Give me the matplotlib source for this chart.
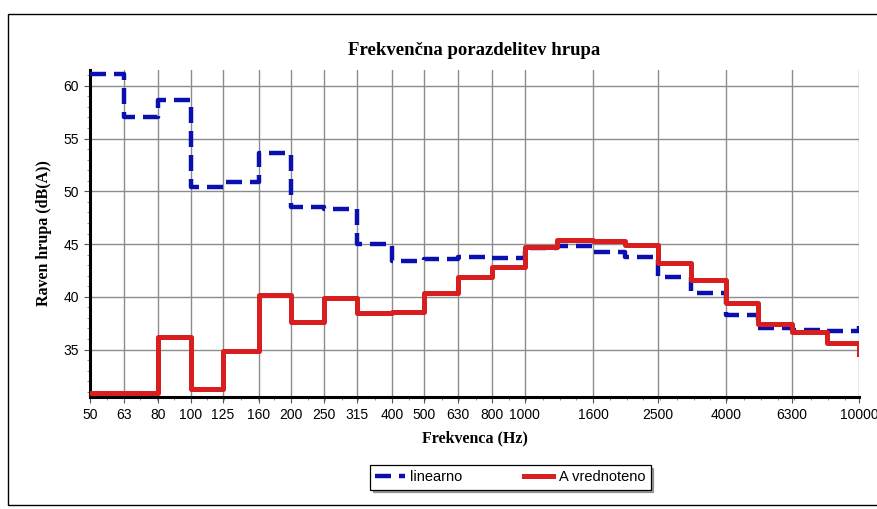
import matplotlib
matplotlib.use("Agg")
import matplotlib.pyplot as plt
import matplotlib.patches as patches
from matplotlib.ticker import FixedLocator, NullFormatter
import numpy as np

# third-octave band centres (Hz)
freq = [50, 63, 80, 100, 125, 160, 200, 250, 315, 400, 500, 630, 800,
        1000, 1250, 1600, 2000, 2500, 3150, 4000, 5000, 6300, 8000, 10000]

# sound level per band
linearno = [61.1, 57.0, 58.7, 50.4, 50.9, 53.6, 48.5, 48.3, 45.0, 43.4, 43.6, 43.8,
            43.7, 44.6, 44.8, 44.2, 43.8, 41.9, 40.4, 38.3, 37.0, 36.9, 36.8, 37.2]
a_vrednoteno = [30.9, 30.9, 36.2, 31.3, 34.9, 40.2, 37.6, 39.9, 38.5, 38.6, 40.4, 41.9,
                42.8, 44.7, 45.4, 45.3, 44.9, 43.2, 41.6, 39.4, 37.4, 36.7, 35.6, 34.6]

xticks = [50, 63, 80, 100, 125, 160, 200, 250, 315, 400, 500, 630, 800, 1000,
          1600, 2500, 4000, 6300, 10000]
yticks = [35, 40, 45, 50, 55, 60]

serif = "Liberation Serif"
sans = "Liberation Sans"

fig = plt.figure(figsize=(8.77, 5.09), dpi=100)
ax = fig.add_axes([0.1026, 0.22, 0.877, 0.6425])

ax.step(freq, linearno, where="post", color="#0a10b0", lw=3.2,
        linestyle=(0, (3.6, 1.8)), label="linearno", zorder=3)
ax.step(freq, a_vrednoteno, where="post", color="#d81e1e", lw=3.6,
        label="A vrednoteno", zorder=4)

ax.set_xscale("log")
ax.set_xlim(50, 10000)
ax.set_ylim(30.5, 61.5)

ax.xaxis.set_major_locator(FixedLocator(xticks))
ax.set_xticklabels([str(t) for t in xticks], fontfamily=sans, fontsize=10)
minor = [50 * 2 ** (k / 6) for k in range(47)]
ax.xaxis.set_minor_locator(FixedLocator(minor))
ax.xaxis.set_minor_formatter(NullFormatter())

ax.set_yticks(yticks)
ax.set_yticklabels([str(t) for t in yticks], fontfamily=sans, fontsize=10)
ax.yaxis.set_minor_locator(FixedLocator(np.arange(31, 62, 1)))

ax.tick_params(which="major", length=4, width=0.8, color="#555555", pad=4)
ax.tick_params(which="minor", length=2.5, width=0.6, color="#777777")

ax.grid(True, which="major", color="#8c8c8c", lw=1.0)
ax.set_axisbelow(True)

for s in ["top", "right"]:
    ax.spines[s].set_visible(False)
for s in ["left", "bottom"]:
    ax.spines[s].set_linewidth(2.2)
    ax.spines[s].set_color("black")

ax.set_title("Frekvenčna porazdelitev hrupa", fontfamily=serif, fontweight="bold",
             fontsize=13.5, pad=11)
ax.set_xlabel("Frekvenca (Hz)", fontfamily=serif, fontweight="bold", fontsize=11.5,
              labelpad=6)
ax.set_ylabel("Raven hrupa (dB(A))", fontfamily=serif, fontweight="bold", fontsize=11.5,
              labelpad=8)

leg = fig.legend(loc="center", bbox_to_anchor=(0.582, 0.062), ncol=2,
                 prop={"family": sans, "size": 10.5}, frameon=True, fancybox=False,
                 shadow=True, edgecolor="black", columnspacing=4.2,
                 handlelength=2.0, handletextpad=0.4, borderpad=0.35)
leg.get_frame().set_linewidth(0.9)

# outer frame around the chart
fig.patches.append(patches.Rectangle((8 / 877, 1 - 505 / 509), 1.0, (505 - 14) / 509,
                                     transform=fig.transFigure, fill=False,
                                     edgecolor="black", lw=1.0))

fig.savefig("out.png", dpi=100)
